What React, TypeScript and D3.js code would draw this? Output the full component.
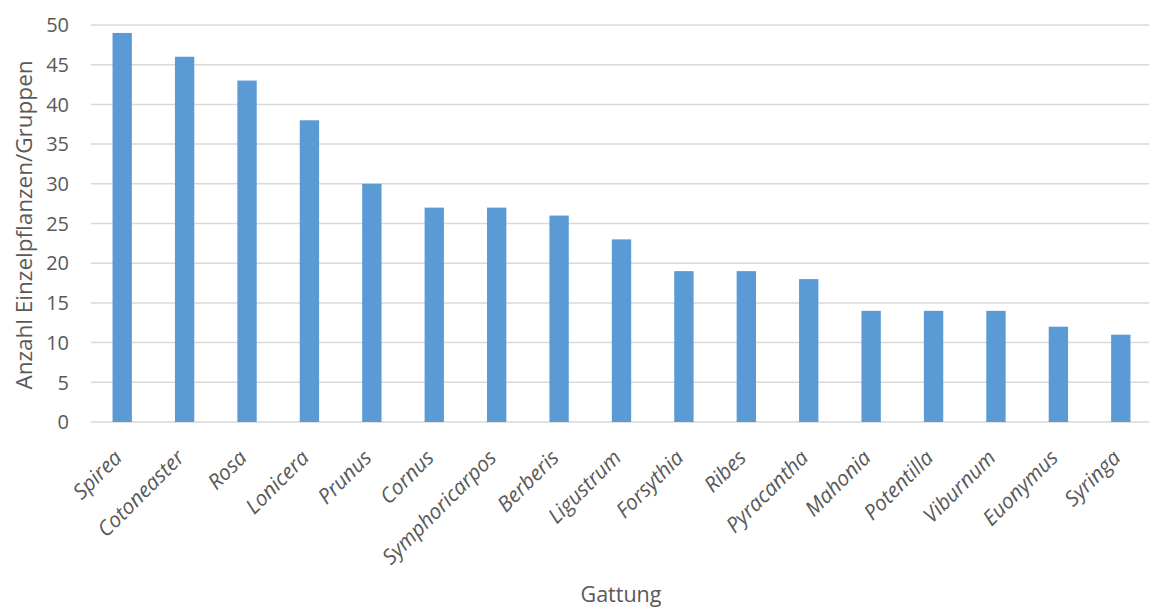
import React from "react";
import * as d3 from "d3";

const categories = ["Spirea","Cotoneaster","Rosa","Lonicera","Prunus","Cornus","Symphoricarpos","Berberis","Ligustrum","Forsythia","Ribes","Pyracantha","Mahonia","Potentilla","Viburnum","Euonymus","Syringa"];
const values = [49,46,43,38,30,27,27,26,23,19,19,18,14,14,14,12,11];
const yTicks = [0,5,10,15,20,25,30,35,40,45,50];
const yTitle = "Anzahl Einzelpflanzen/Gruppen";
const xTitle = "Gattung";

const W = 1149, H = 608;
const left = 91, right = 1152, top = 25, bottom = 422;
const font = "'Open Sans', 'Noto Sans', sans-serif";
const textColor = "#595959";

export default function App() {
  const x = d3.scaleBand<string>().domain(categories).range([left, right]).paddingInner(0.69).paddingOuter(0.345);
  const y = d3.scaleLinear().domain([0, 50]).range([bottom, top]);
  return (
    <svg width={W} height={H} style={{ position: "absolute", left: 0, top: 0, background: "#fff" }}>
      {yTicks.map(t => (
        <g key={t}>
          <line x1={left} x2={W} y1={y(t)} y2={y(t)} stroke="#D9D9D9" strokeWidth={1.5} />
          <text x={69} y={y(t)} dy="0.36em" textAnchor="end" fontFamily={font} fontSize={20} fill={textColor}>{t}</text>
        </g>
      ))}
      {categories.map((c, i) => (
        <rect key={c} x={x(c)} y={y(values[i])} width={x.bandwidth()} height={bottom - y(values[i])} fill="#5B9BD5" />
      ))}
      {categories.map(c => {
        const cx = (x(c) as number) + x.bandwidth() / 2;
        return (
          <text key={c} transform={`translate(${cx + 1},${459}) rotate(-45)`} textAnchor="end" fontFamily={font} fontStyle="italic" fontSize={21} fill={textColor}>{c}</text>
        );
      })}
      <text transform={`translate(32,${225}) rotate(-90)`} textAnchor="middle" fontFamily={font} fontSize={22.5} fill={textColor}>{yTitle}</text>
      <text x={621} y={602} textAnchor="middle" fontFamily={font} fontSize={21.5} fill={textColor}>{xTitle}</text>
    </svg>
  );
}
